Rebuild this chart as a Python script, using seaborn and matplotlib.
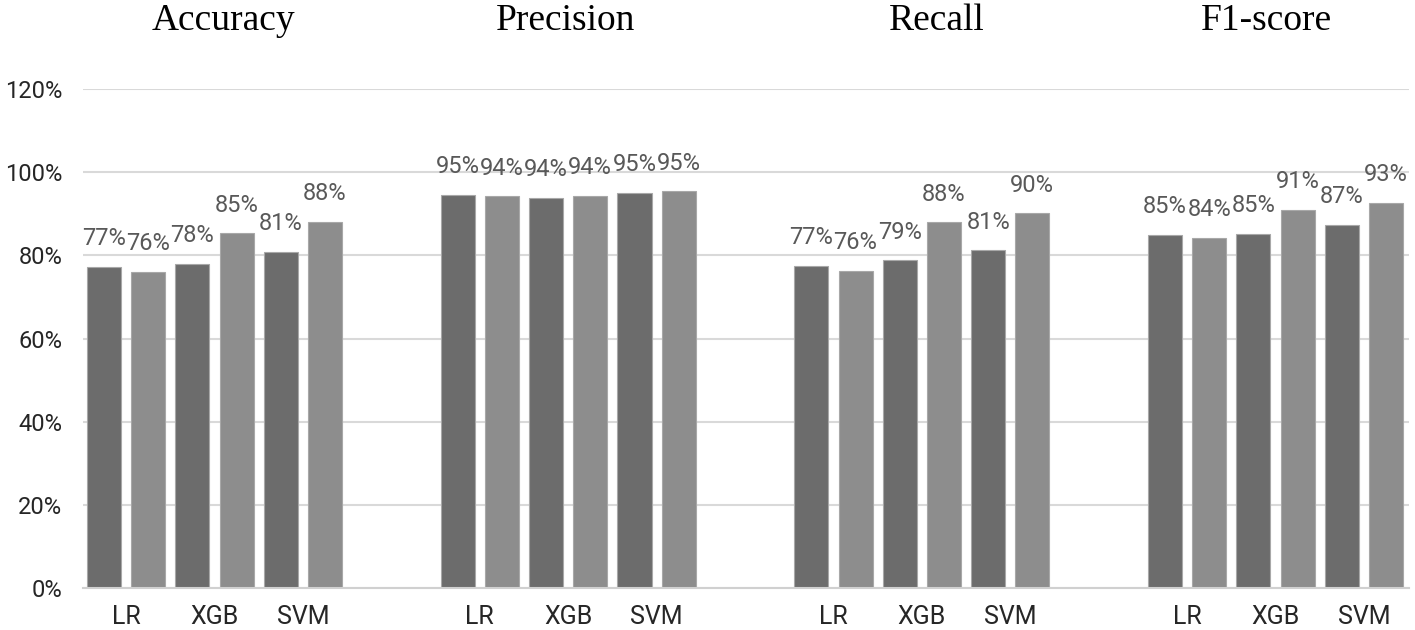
import numpy as np
import pandas as pd
import matplotlib.pyplot as plt
import seaborn as sns

# values (in %)
metrics = ["Accuracy", "Precision", "Recall", "F1-score"]
models = ["LR", "XGB", "SVM"]
variants = ["A", "B"]  # dark / light bar of each model pair
accuracy = [77.2, 76.0, 78.0, 85.3, 80.8, 88.0]
precision = [94.6, 94.2, 93.8, 94.3, 95.0, 95.4]
recall = [77.4, 76.3, 78.8, 87.9, 81.2, 90.1]
f1_score = [85.0, 84.2, 85.2, 90.9, 87.4, 92.6]
y_ticks = [0, 20, 40, 60, 80, 100, 120]
# small horizontal nudges of the metric titles (in bar slots)
title_shift = [0.2, -0.05, 0.33, -0.2]


def main():
    # long table, one row per bar; slot = position along the x axis
    rows = []
    for g, vals in enumerate([accuracy, precision, recall, f1_score]):
        for i, v in enumerate(vals):
            rows.append({
                "metric": metrics[g],
                "model": models[i // 2],
                "variant": variants[i % 2],
                "slot": g * 8 + i,
                "value": v,
            })
    df = pd.DataFrame(rows)

    sns.set_theme(style="whitegrid")
    plt.rcParams["font.family"] = ["Roboto", "DejaVu Sans"]

    fig = plt.figure(figsize=(14.15, 6.3), dpi=100)
    ax = fig.add_axes([83 / 1415, 42 / 630, (1409 - 83) / 1415, (588 - 89) / 630])

    sns.barplot(data=df, x="slot", y="value", hue="variant", native_scale=True,
                dodge=False, width=0.77, palette=["#6c6c6c", "#8d8d8d"],
                edgecolor="#a8a8a8", linewidth=0.8, legend=False, ax=ax)

    for cont in ax.containers:
        ax.bar_label(cont, labels=[f"{v:.0f}%" for v in cont.datavalues],
                     padding=12, fontsize=17, color="#595959")

    ax.set_ylim(0, 120)
    ax.set_xlim(-0.475, 29.52)
    ax.set_yticks(y_ticks)
    ax.set_yticklabels([f"{t}%" for t in y_ticks], fontsize=17, color="#262626")

    pair_pos = [g * 8 + 2 * k + 0.5 for g in range(len(metrics)) for k in range(len(models))]
    ax.set_xticks(pair_pos)
    ax.set_xticklabels(models * len(metrics), fontsize=18, color="#262626")
    ax.tick_params(axis="y", length=0, pad=15)
    ax.tick_params(axis="x", length=0, pad=12)
    ax.set_xlabel("")
    ax.set_ylabel("")

    ax.grid(axis="x", visible=False)
    ax.grid(axis="y", color="#d9d9d9", linewidth=1.5)
    ax.set_axisbelow(True)
    for side in ["left", "right", "top"]:
        ax.spines[side].set_visible(False)
    ax.spines["bottom"].set_color("#d0d0d0")
    ax.spines["bottom"].set_linewidth(1.5)

    # metric titles over each group of bars, near the top of the figure
    title_y = 1 + (89 - 30) / (588 - 89)
    for g, name in enumerate(metrics):
        ax.text(g * 8 + 2.5 + title_shift[g], title_y, name,
                transform=ax.get_xaxis_transform(),
                ha="center", va="baseline", fontsize=27,
                family="Liberation Serif", color="black")

    fig.savefig("out.png", dpi=100, facecolor="white")
    plt.close(fig)


if __name__ == "__main__":
    main()
